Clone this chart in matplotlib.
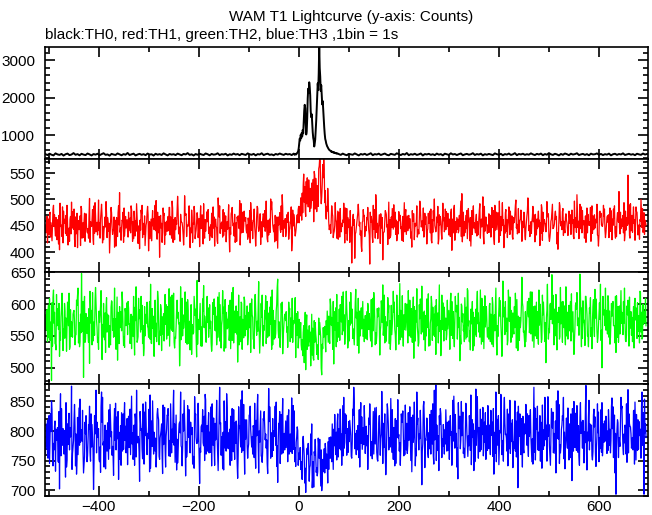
import numpy as np
import matplotlib
matplotlib.use("Agg")
import matplotlib.pyplot as plt
from matplotlib.ticker import MultipleLocator

plt.rcParams['font.family'] = ['Liberation Sans', 'DejaVu Sans']

TITLE = "WAM T1 Lightcurve (y-axis: Counts)"
SUBTITLE = "black:TH0, red:TH1, green:TH2, blue:TH3 ,1bin = 1s"

X_TICKS = [-400, -200, 0, 200, 400, 600]
X_RANGE = (-507, 698)

# TH0 (black): 4-s samples before burst, 1-s samples across burst, 4-s after
th0_pre_start = -506
th0_pre = [
    495, 472, 508, 481, 463, 517, 489, 476, 502, 458, 493, 511, 470, 486, 524, 479, 497, 465, 505, 484, 471, 513, 490, 461, 499,
    482, 507, 468, 494, 521, 477, 489, 456, 503, 486, 474, 515, 492, 466, 498, 480, 527, 473, 491, 509, 462, 487, 504, 478, 496,
    469, 512, 485, 493, 459, 506, 481, 497, 474, 518, 488, 463, 501, 483, 495, 471, 510, 490, 467, 503, 486, 524, 476, 492, 460,
    499, 479, 508, 487, 472, 514, 494, 465, 502, 482, 490, 519, 470, 496, 485, 506, 461, 493, 478, 511, 484, 499, 468, 505, 488,
    474, 516, 491, 480, 503, 463, 497, 486, 520, 471, 495, 508, 477, 489, 466, 501, 483, 513, 492, 475, 506, 488, 498, 471, 510,
]
th0_burst_start = -9
th0_burst = [
    492, 478, 505, 496, 488, 512, 530, 545, 580,
    650, 780, 910, 860, 1010, 920, 1060, 970, 1140, 1050,
    1380, 1650, 1810, 1720, 1290, 1020, 1110, 1450, 1980, 2240,
    2130, 2410, 2290, 2060, 1640, 1480, 1560, 1330, 1080, 930,
    860, 700, 780, 890, 1120, 1390, 1720, 2050, 2380, 2210,
    2650, 3400, 2790, 2560, 2180, 2330, 2060, 1820, 1910, 1660,
    1420, 1210, 1030, 900, 850, 780, 740, 700, 680, 650,
    630, 610, 600, 590, 575, 560, 570, 555, 548, 540,
    552, 530, 535, 522, 528, 515, 520, 508, 512, 505,
]
th0_post_start = 80
th0_post = [
    498, 476, 510, 485, 467, 503, 492, 479, 515, 488, 462, 500, 483, 506, 474, 494, 520, 469, 497, 486, 509, 473, 491, 512, 480,
    465, 504, 489, 477, 518, 493, 471, 501, 484, 526, 468, 496, 482, 507, 475, 490, 513, 461, 499, 487, 505, 478, 494, 470, 511,
    483, 497, 464, 508, 491, 476, 519, 486, 500, 472, 495, 514, 467, 489, 503, 481, 493, 522, 474, 498, 485, 509, 463, 496, 480,
    502, 488, 471, 516, 494, 479, 505, 466, 498, 484, 512, 475, 491, 523, 469, 500, 487, 507, 477, 495, 482, 517, 490, 472, 504,
    486, 511, 468, 499, 481, 524, 492, 474, 506, 489, 463, 501, 478, 513, 495, 470, 508, 485, 497, 520, 473, 490, 503, 476, 498,
    467, 509, 488, 494, 515, 479, 502, 471, 496, 483, 510, 464, 493, 506, 477, 499, 487, 518, 474, 491, 505, 482, 496, 469, 507,
    490, 478, 512, 485, 500,
]

# TH1..TH3: four interleaved 1-s sample sets, each every 4 s,
# starting at -506 s (a), -505 s (c), -504 s (b), -503 s (d)
TH_STARTS = {'a': -506, 'b': -504, 'c': -505, 'd': -503}
TH_STEP = 4
th1_a = [
    452, 418, 471, 440, 489, 431, 462, 405, 447, 478, 436, 459, 421, 495, 444, 467, 409, 452, 483, 428,
    461, 437, 502, 449, 415, 470, 433, 456, 491, 424, 448, 466, 399, 475, 442, 457, 430, 513, 446, 419,
    468, 439, 454, 481, 426, 460, 445, 407, 473, 451, 434, 487, 458, 422, 464, 441, 476, 391, 455, 469,
    433, 450, 485, 427, 462, 443, 506, 438, 457, 414, 471, 449, 431, 480, 453, 436, 465, 411, 447, 492,
    440, 458, 423, 474, 446, 463, 417, 488, 452, 432, 469, 444, 401, 477, 455, 428, 461, 498, 437, 450,
    466, 425, 479, 442, 459, 412, 484, 448, 435, 470, 454, 420, 463, 496, 439, 451, 408, 475, 443, 460,
    430, 467, 445, 403, 472, 438, 456, 486, 461, 548, 468, 519, 477, 531, 458, 540, 496, 579, 505, 578,
    472, 521, 447, 488, 436, 462, 478, 429, 455, 493, 441, 466, 419, 380, 451, 437, 474, 457, 402, 468,
    449, 485, 378, 460, 444, 509, 426, 471, 453, 438, 476, 415, 462, 447, 490, 434, 458, 470, 423, 455,
    481, 441, 464, 410, 473, 450, 436, 497, 456, 429, 468, 445, 478, 418, 460, 439, 487, 452, 425, 466,
    443, 474, 458, 404, 482, 437, 463, 449, 511, 431, 470, 454, 422, 479, 446, 461, 433, 492, 448, 416,
    467, 452, 438, 485, 427, 459, 475, 442, 463, 409, 481, 450, 434, 469, 456, 499, 440, 461, 421, 476,
    445, 503, 430, 458, 471, 436, 464, 413, 484, 451, 439, 467, 428, 477, 449, 462, 406, 488, 443, 459,
    473, 432, 455, 480, 426, 466, 447, 491, 437, 460, 419, 472, 453, 488, 444, 463, 431, 478, 450, 468,
    438, 457, 484, 424, 465, 449, 472, 435, 461, 494, 442, 546, 427, 470, 455, 486, 433, 462, 447, 475,
    452,
]
th1_b = [
    444, 463, 429, 455, 471, 438, 416, 449, 486, 457, 432, 441, 468, 477, 425, 452, 460, 413, 439, 474,
    448, 427, 458, 481, 436, 445, 499, 462, 418, 451, 473, 440, 456, 434, 410, 466, 488, 447, 459, 431,
    454, 476, 437, 421, 463, 492, 450, 442, 428, 469, 457, 403, 445, 479, 461, 432, 449, 470, 438, 415,
    459, 441, 467, 484, 424, 453, 435, 472, 448, 507, 430, 462, 446, 419, 475, 458, 439, 488, 451, 427,
    463, 436, 452, 470, 412, 447, 481, 455, 429, 466, 443, 490, 434, 457, 472, 421, 450, 441, 476, 460,
    437, 458, 494, 426, 449, 468, 440, 415, 462, 479, 445, 433, 501, 454, 420, 467, 452, 438, 485, 446,
    471, 425, 456, 480, 443, 462, 487, 503, 475, 524, 492, 537, 483, 505, 546, 477, 558, 513, 566, 494,
    487, 458, 436, 469, 451, 427, 476, 445, 461, 418, 483, 447, 432, 465, 389, 456, 474, 441, 459, 430,
    466, 442, 457, 419, 481, 438, 453, 473, 386, 460, 448, 495, 433, 464, 450, 422, 477, 445, 468, 439,
    452, 470, 427, 459, 446, 488, 435, 463, 441, 474, 416, 455, 482, 438, 451, 467, 426, 458, 493, 444,
    461, 433, 475, 450, 423, 466, 441, 497, 452, 437, 479, 458, 412, 470, 446, 431, 464, 455, 505, 440,
    448, 473, 429, 457, 489, 443, 419, 468, 451, 436, 462, 486, 444, 425, 471, 453, 437, 480, 459, 432,
    469, 441, 458, 487, 420, 463, 448, 436, 476, 455, 496, 430, 459, 445, 472, 416, 461, 450, 483, 437,
    456, 478, 434, 462, 447, 509, 426, 465, 452, 439, 484, 458, 421, 469, 446, 491, 433, 474, 457, 443,
    466, 428, 479, 451, 437, 462, 515, 445, 470, 433, 458, 490, 441, 464, 423, 476, 452, 500, 438, 461,
]
th1_c = [
    437, 458, 476, 422, 449, 466, 441, 493, 430, 455, 470, 414, 462, 446, 482, 435, 451, 469, 427, 458,
    473, 445, 419, 462, 488, 439, 453, 427, 470, 442, 496, 458, 431, 449, 467, 412, 475, 438, 461, 484,
    446, 429, 465, 452, 478, 440, 417, 461, 489, 434, 452, 471, 426, 457, 443, 498, 437, 462, 419, 474,
    451, 468, 433, 497, 445, 460, 479, 421, 456, 438, 473, 450, 409, 466, 487, 443, 428, 459, 471, 436,
    455, 481, 440, 428, 467, 449, 503, 436, 458, 475, 420, 462, 447, 485, 431, 456, 469, 414, 452, 478,
    443, 465, 418, 457, 482, 435, 451, 473, 429, 448, 497, 461, 438, 476, 452, 423, 467, 444, 509, 456,
    439, 476, 458, 422, 465, 447, 481, 469, 512, 495, 534, 486, 521, 498, 553, 516, 487, 571, 529, 557,
    463, 497, 452, 474, 440, 458, 425, 483, 449, 467, 436, 455, 479, 428, 462, 446, 491, 433, 457, 470,
    441, 459, 476, 430, 452, 488, 445, 417, 466, 439, 472, 456, 428, 483, 448, 461, 435, 470, 454, 494,
    434, 465, 451, 479, 424, 457, 443, 486, 460, 431, 449, 474, 437, 462, 501, 445, 416, 468, 453, 439,
    477, 448, 430, 463, 489, 452, 437, 471, 420, 458, 445, 483, 466, 434, 456, 472, 441, 427, 463, 487,
    455, 438, 470, 447, 415, 476, 459, 432, 494, 451, 440, 465, 478, 429, 457, 446, 483, 462, 436, 471,
    458, 485, 442, 467, 451, 433, 478, 456, 423, 462, 447, 473, 439, 491, 454, 468, 431, 455, 477, 444,
    462, 440, 471, 455, 497, 438, 459, 445, 479, 427, 464, 452, 485, 436, 471, 456, 412, 467, 449, 482,
    453, 471, 440, 463, 488, 430, 457, 476, 449, 422, 466, 454, 492, 438, 462, 477, 445, 459, 483, 434,
]
th1_d = [
    468, 433, 456, 481, 445, 424, 470, 452, 418, 463, 489, 446, 435, 458, 411, 474, 443, 487, 456, 421,
    439, 470, 453, 426, 494, 457, 441, 478, 449, 467, 428, 455, 485, 442, 461, 437, 452, 423, 476, 450,
    462, 441, 488, 458, 431, 470, 446, 480, 455, 413, 476, 439, 463, 450, 489, 425, 468, 446, 484, 457,
    440, 485, 455, 419, 466, 481, 448, 459, 434, 470, 452, 488, 437, 455, 426, 475, 464, 445, 416, 462,
    477, 448, 431, 486, 459, 422, 467, 445, 481, 440, 458, 433, 473, 450, 419, 467, 445, 492, 438, 459,
    452, 429, 474, 461, 436, 487, 446, 458, 473, 440, 426, 459, 481, 445, 470, 437, 455, 488, 430, 464,
    457, 441, 486, 450, 431, 471, 456, 494, 527, 479, 541, 510, 495, 538, 482, 526, 563, 492, 541, 517,
    478, 443, 465, 428, 494, 451, 470, 439, 457, 484, 423, 461, 448, 472, 436, 463, 450, 412, 481, 447,
    462, 433, 468, 489, 427, 455, 471, 446, 438, 479, 452, 426, 467, 444, 476, 434, 460, 448, 421, 473,
    469, 446, 438, 473, 455, 429, 462, 448, 484, 453, 440, 468, 423, 479, 445, 458, 471, 437, 460, 482,
    449, 463, 482, 437, 458, 444, 470, 430, 476, 455, 426, 462, 449, 488, 437, 458, 480, 463, 432, 451,
    436, 466, 452, 479, 442, 460, 497, 441, 462, 475, 428, 455, 443, 466, 489, 435, 452, 470, 447, 424,
    479, 451, 436, 458, 472, 445, 461, 490, 440, 454, 469, 421, 463, 446, 478, 437, 494, 458, 432, 466,
    445, 468, 452, 430, 461, 475, 442, 486, 458, 469, 437, 451, 474, 443, 458, 433, 476, 452, 489, 428,
    469, 444, 459, 482, 427, 475, 448, 463, 437, 478, 451, 432, 467, 486, 448, 455, 425, 471, 443, 457,
]
th2_a = [
    583, 541, 609, 480, 622, 537, 575, 518, 594, 561, 547, 603, 529, 572, 588, 551, 614, 533, 648, 485,
    545, 579, 507, 590, 563, 626, 540, 571, 553, 601, 524, 584, 566, 605, 548, 577, 512, 596, 558, 535,
    587, 552, 569, 530, 612, 574, 543, 591, 560, 519, 581, 565, 604, 538, 576, 549, 620, 557, 527, 585,
    568, 596, 534, 559, 617, 546, 578, 503, 589, 562, 540, 607, 573, 521, 555, 592, 537, 580, 564, 629,
    550, 571, 599, 526, 584, 558, 611, 542, 567, 595, 531, 576, 553, 618, 539, 586, 509, 570, 601, 547,
    582, 536, 563, 608, 544, 590, 557, 523, 579, 566, 613, 548, 595, 529, 572, 554, 639, 541, 587, 561,
    574, 532, 593, 551, 569, 516, 588, 547, 528, 566, 497, 559, 541, 584, 512, 553, 536, 571, 489, 548,
    525, 562, 538, 579, 506, 594, 567, 543, 612, 558, 584, 531, 603, 570, 549, 623, 537, 589, 561, 576,
    546, 601, 572, 533, 618, 555, 580, 520, 596, 563, 541, 610, 574, 552, 587, 528, 565, 632, 548, 583,
    559, 539, 606, 571, 515, 590, 553, 577, 628, 544, 582, 563, 535, 599, 568, 521, 586, 557, 614, 542,
    578, 561, 529, 604, 550, 589, 572, 511, 597, 566, 545, 621, 558, 583, 534, 592, 569, 548, 609, 530,
    587, 556, 601, 537, 574, 625, 549, 581, 518, 595, 562, 543, 611, 570, 553, 588, 527, 579, 642, 558,
    541, 593, 566, 619, 532, 577, 554, 600, 545, 584, 508, 572, 598, 646, 536, 615, 571, 549, 589, 563,
    627, 545, 580, 556, 521, 602, 568, 647, 594, 575, 612, 551, 586, 530, 564, 608, 547, 576, 500, 591,
    559, 613, 537, 581, 566, 524, 596, 553, 587, 570, 541, 606, 562, 579, 531, 594, 557, 620, 545, 574,
    566,
]
th2_b = [
    571, 598, 552, 534, 587, 615, 560, 543, 579, 601, 526, 566, 591, 548, 572, 606, 539, 584, 557, 612,
    563, 540, 589, 618, 551, 575, 529, 597, 568, 544, 610, 582, 536, 559, 625, 574, 550, 588, 604, 532,
    578, 593, 547, 565, 520, 584, 609, 556, 538, 596, 570, 548, 631, 562, 583, 541, 574, 599, 553, 587,
    545, 580, 611, 557, 531, 592, 569, 627, 550, 575, 603, 538, 586, 564, 597, 517, 571, 555, 608, 581,
    594, 548, 573, 602, 559, 536, 583, 566, 621, 545, 577, 598, 530, 562, 589, 553, 614, 541, 576, 605,
    560, 587, 524, 579, 596, 551, 635, 568, 543, 590, 557, 581, 611, 536, 574, 599, 547, 563, 522, 584,
    556, 603, 578, 540, 595, 562, 547, 571, 519, 555, 583, 534, 503, 562, 540, 521, 578, 548, 530, 565,
    552, 581, 596, 529, 573, 615, 548, 586, 561, 537, 593, 574, 618, 546, 569, 587, 523, 577, 604, 555,
    588, 560, 542, 609, 577, 551, 594, 566, 630, 539, 572, 598, 545, 583, 561, 614, 537, 590, 557, 571,
    600, 575, 548, 586, 563, 624, 540, 591, 556, 573, 608, 534, 577, 595, 549, 566, 583, 519, 602, 568,
    553, 590, 617, 546, 571, 598, 563, 537, 585, 610, 548, 574, 592, 527, 567, 603, 556, 580, 541, 613,
    570, 545, 584, 599, 558, 520, 593, 567, 636, 552, 578, 601, 540, 586, 563, 607, 548, 574, 596, 533,
    582, 609, 553, 571, 597, 546, 622, 565, 583, 541, 590, 561, 576, 614, 550, 528, 595, 569, 604, 556,
    573, 598, 542, 588, 563, 618, 551, 579, 605, 535, 584, 571, 549, 596, 623, 557, 581, 543, 612, 566,
    590, 548, 576, 604, 539, 585, 561, 621, 552, 578, 597, 534, 588, 567, 609, 546, 582, 556, 600, 571,
]
th2_c = [
    559, 587, 543, 602, 570, 528, 593, 555, 617, 546, 578, 599, 533, 564, 590, 552, 625, 541, 576, 596,
    585, 554, 620, 536, 572, 598, 547, 582, 513, 567, 594, 559, 542, 603, 578, 529, 587, 563, 619, 549,
    566, 604, 538, 581, 556, 627, 549, 573, 598, 531, 584, 562, 545, 593, 518, 570, 608, 551, 580, 542,
    599, 551, 577, 614, 540, 565, 587, 536, 609, 572, 553, 590, 528, 568, 612, 547, 576, 601, 534, 563,
    540, 594, 562, 537, 608, 581, 548, 599, 575, 526, 587, 563, 606, 543, 571, 597, 552, 580, 529, 611,
    572, 549, 601, 583, 530, 565, 592, 546, 614, 559, 538, 586, 568, 622, 545, 589, 560, 532, 603, 576,
    588, 556, 541, 609, 572, 585, 531, 562, 544, 508, 569, 537, 556, 520, 574, 545, 513, 559, 537, 551,
    574, 540, 608, 562, 588, 533, 571, 599, 552, 583, 620, 544, 567, 592, 536, 578, 609, 550, 585, 541,
    567, 593, 550, 579, 603, 538, 586, 557, 571, 614, 546, 588, 529, 567, 603, 555, 582, 544, 613, 560,
    579, 621, 557, 540, 596, 572, 534, 608, 565, 589, 550, 616, 570, 543, 584, 607, 539, 574, 560, 595,
    544, 576, 602, 563, 533, 588, 617, 550, 572, 541, 595, 566, 528, 604, 579, 549, 586, 622, 557, 574,
    596, 563, 541, 610, 583, 549, 572, 605, 539, 584, 557, 622, 575, 548, 596, 531, 581, 563, 602, 545,
    563, 580, 619, 542, 566, 603, 537, 588, 614, 557, 579, 545, 601, 569, 592, 552, 578, 626, 540, 597,
    550, 586, 604, 571, 540, 592, 578, 617, 546, 563, 599, 533, 610, 575, 549, 590, 566, 631, 553, 585,
    578, 604, 548, 591, 566, 613, 540, 585, 567, 625, 551, 593, 572, 541, 601, 579, 560, 618, 547, 588,
]
th2_d = [
    591, 547, 572, 610, 538, 566, 601, 580, 527, 589, 564, 617, 549, 584, 536, 598, 571, 555, 604, 540,
    554, 593, 570, 542, 605, 563, 589, 621, 548, 586, 556, 532, 595, 577, 549, 611, 538, 579, 561, 593,
    602, 568, 584, 549, 595, 540, 577, 612, 566, 550, 603, 574, 539, 581, 606, 557, 536, 592, 569, 615,
    557, 624, 563, 592, 548, 606, 571, 544, 583, 619, 537, 568, 599, 553, 582, 637, 560, 534, 589, 572,
    612, 568, 539, 584, 595, 552, 618, 531, 586, 607, 561, 543, 579, 626, 555, 588, 536, 603, 566, 550,
    597, 563, 584, 545, 615, 573, 558, 601, 534, 577, 604, 550, 562, 590, 547, 626, 572, 601, 548, 581,
    564, 589, 547, 574, 610, 551, 576, 536, 555, 587, 529, 566, 548, 515, 571, 532, 552, 499, 563, 540,
    589, 547, 567, 604, 559, 541, 592, 572, 619, 555, 576, 542, 588, 561, 603, 535, 570, 594, 549, 582,
    544, 585, 607, 558, 536, 593, 573, 605, 551, 580, 566, 538, 598, 620, 552, 577, 589, 563, 534, 601,
    576, 550, 593, 611, 542, 565, 599, 553, 586, 527, 578, 560, 612, 551, 597, 575, 630, 548, 583, 559,
    606, 567, 551, 588, 612, 545, 579, 600, 558, 577, 624, 541, 569, 587, 552, 620, 571, 537, 596, 564,
    548, 598, 575, 533, 591, 566, 610, 549, 580, 604, 536, 573, 590, 559, 617, 568, 543, 597, 556, 588,
    604, 555, 577, 596, 550, 588, 567, 540, 603, 571, 631, 555, 583, 596, 562, 587, 545, 603, 573, 536,
    587, 558, 616, 544, 598, 566, 585, 533, 571, 612, 550, 594, 563, 607, 578, 540, 602, 559, 583, 625,
    553, 589, 601, 566, 612, 548, 597, 570, 604, 543, 583, 611, 551, 596, 575, 602, 539, 587, 568, 609,
]
th3_a = [
    760, 818, 745, 851, 779, 732, 806, 702, 838, 791, 722, 812, 768, 876, 784, 741, 823, 776, 802, 729,
    795, 758, 842, 773, 701, 827, 789, 748, 866, 781, 736, 814, 770, 799, 725, 847, 787, 756, 831, 769,
    808, 743, 789, 859, 762, 821, 780, 715, 804, 774, 849, 796, 731, 817, 761, 788, 838, 752, 812, 777,
    739, 826, 784, 763, 869, 791, 746, 815, 772, 800, 724, 843, 768, 794, 757, 829, 782, 711, 810, 775,
    853, 766, 798, 741, 822, 785, 759, 874, 790, 734, 816, 771, 803, 750, 836, 779, 720, 809, 764, 845,
    786, 754, 827, 773, 805, 737, 862, 781, 756, 819, 795, 728, 841, 767, 800, 776, 713, 833, 761, 792,
    817, 748, 783, 856, 769, 740, 801, 752, 723, 774, 696, 761, 738, 812, 705, 757, 731, 786, 699, 744,
    768, 712, 779, 748, 803, 760, 829, 783, 742, 857, 796, 771, 818, 754, 874, 787, 809, 739, 824, 777,
    793, 735, 846, 782, 761, 812, 749, 798, 867, 772, 726, 835, 789, 764, 806, 745, 853, 780, 819, 758,
    801, 776, 841, 731, 795, 769, 822, 787, 709, 850, 784, 762, 828, 797, 744, 878, 773, 811, 755, 790,
    836, 767, 804, 742, 859, 783, 719, 825, 792, 771, 847, 757, 813, 786, 733, 871, 799, 765, 820, 780,
    752, 843, 789, 808, 727, 866, 776, 801, 760, 834, 795, 741, 852, 782, 770, 817, 704, 829, 788, 763,
    845, 779, 811, 748, 874, 794, 768, 826, 737, 802, 785, 858, 759, 821, 796, 729, 868, 777, 810, 753,
    799, 839, 772, 716, 850, 790, 764, 823, 806, 746, 877, 783, 812, 758, 837, 740, 797, 770, 848, 781,
    825, 767, 803, 856, 786, 693, 814, 774, 842, 795, 761, 870, 808, 784, 835, 751, 819, 792, 866, 693,
    789,
]
th3_b = [
    792, 771, 829, 755, 808, 784, 747, 863, 776, 801, 739, 819, 790, 762, 845, 727, 798, 781, 835, 757,
    772, 811, 749, 790, 826, 763, 804, 730, 857, 783, 795, 752, 820, 774, 838, 791, 718, 809, 766, 848,
    779, 825, 760, 797, 742, 869, 787, 814, 753, 832, 775, 806, 737, 851, 784, 762, 819, 795, 728, 840,
    803, 758, 846, 781, 812, 734, 793, 866, 770, 824, 756, 789, 815, 744, 858, 779, 801, 764, 836, 750,
    788, 831, 764, 806, 742, 852, 777, 814, 736, 797, 863, 770, 825, 786, 752, 809, 841, 773, 796, 727,
    819, 778, 803, 761, 847, 792, 729, 834, 766, 810, 785, 872, 754, 821, 797, 740, 813, 779, 855, 768,
    799, 836, 765, 811, 748, 790, 757, 735, 782, 712, 766, 748, 795, 721, 759, 738, 776, 707, 752, 729,
    761, 735, 790, 772, 828, 751, 804, 768, 843, 781, 759, 816, 793, 837, 770, 801, 755, 848, 786, 810,
    775, 822, 758, 796, 839, 764, 812, 787, 745, 829, 802, 768, 855, 783, 741, 818, 794, 771, 834, 760,
    813, 784, 750, 827, 792, 866, 768, 805, 779, 738, 822, 797, 761, 846, 785, 810, 733, 829, 774, 802,
    766, 817, 793, 852, 771, 739, 808, 786, 832, 755, 799, 775, 861, 789, 748, 823, 806, 768, 840, 781,
    809, 770, 835, 757, 798, 820, 743, 862, 784, 813, 766, 829, 792, 738, 851, 777, 807, 760, 825, 795,
    776, 826, 790, 744, 839, 803, 767, 815, 782, 857, 749, 811, 788, 832, 762, 798, 845, 773, 819, 736,
    787, 751, 829, 806, 772, 843, 758, 796, 818, 780, 734, 852, 799, 765, 824, 791, 748, 836, 776, 808,
    762, 813, 784, 841, 729, 802, 789, 857, 771, 810, 747, 829, 795, 768, 849, 783, 816, 754, 831, 797,
]
th3_c = [
    812, 754, 790, 836, 768, 803, 749, 822, 785, 761, 848, 777, 806, 735, 819, 795, 760, 854, 783, 744,
    826, 785, 764, 811, 748, 869, 797, 773, 815, 739, 801, 780, 845, 759, 812, 768, 833, 752, 797, 821,
    763, 799, 837, 778, 810, 756, 791, 833, 769, 744, 818, 787, 861, 774, 798, 739, 825, 788, 760, 803,
    791, 838, 757, 803, 776, 827, 764, 797, 741, 852, 782, 819, 763, 806, 737, 789, 847, 771, 799, 825,
    761, 807, 782, 846, 770, 798, 733, 812, 788, 851, 766, 797, 742, 838, 780, 817, 758, 792, 868, 774,
    803, 771, 842, 790, 755, 818, 784, 806, 747, 833, 771, 798, 823, 757, 791, 849, 780, 745, 814, 796,
    772, 820, 795, 762, 834, 781, 742, 772, 718, 758, 733, 779, 742, 704, 765, 730, 788, 743, 716, 770,
    737, 782, 754, 812, 775, 798, 756, 837, 789, 771, 827, 764, 805, 782, 848, 760, 797, 821, 769, 843,
    808, 770, 818, 753, 797, 840, 778, 759, 821, 795, 750, 812, 773, 836, 766, 801, 788, 742, 815, 783,
    768, 831, 797, 776, 849, 758, 790, 835, 766, 818, 795, 755, 807, 778, 869, 750, 792, 838, 787, 761,
    798, 784, 826, 761, 813, 796, 848, 770, 808, 755, 830, 792, 767, 819, 801, 776, 754, 837, 794, 815,
    785, 829, 760, 815, 781, 748, 826, 797, 773, 857, 788, 804, 762, 819, 796, 756, 842, 786, 739, 812,
    803, 757, 836, 787, 764, 821, 798, 749, 844, 775, 810, 791, 742, 805, 777, 851, 786, 763, 826, 798,
    822, 778, 755, 838, 794, 767, 809, 848, 771, 799, 766, 824, 783, 751, 807, 772, 832, 796, 758, 817,
    791, 836, 763, 804, 827, 772, 755, 819, 798, 780, 846, 763, 807, 789, 744, 828, 769, 803, 776, 854,
]
th3_d = [
    769, 826, 799, 741, 817, 787, 833, 758, 804, 779, 751, 830, 795, 772, 808, 750, 839, 790, 766, 815,
    748, 803, 829, 767, 795, 815, 752, 841, 776, 810, 766, 836, 790, 759, 784, 824, 798, 742, 829, 784,
    821, 772, 805, 752, 829, 783, 764, 801, 846, 792, 760, 837, 775, 809, 766, 828, 757, 801, 844, 772,
    827, 770, 804, 835, 747, 786, 812, 775, 829, 790, 766, 836, 801, 745, 821, 779, 759, 807, 780, 862,
    809, 763, 841, 776, 813, 789, 826, 759, 798, 771, 839, 782, 808, 765, 814, 745, 805, 853, 767, 819,
    776, 827, 789, 809, 765, 836, 800, 758, 821, 785, 745, 816, 797, 767, 842, 775, 806, 828, 763, 793,
    826, 761, 788, 843, 772, 807, 763, 748, 791, 737, 771, 715, 760, 748, 786, 724, 754, 768, 731, 779,
    750, 789, 766, 735, 781, 813, 770, 795, 758, 829, 804, 782, 757, 827, 796, 768, 836, 779, 806, 762,
    792, 811, 767, 833, 778, 752, 826, 795, 813, 761, 846, 784, 807, 752, 821, 789, 766, 829, 795, 844,
    762, 800, 823, 781, 741, 812, 795, 769, 842, 787, 810, 770, 835, 758, 800, 767, 826, 793, 811, 778,
    815, 752, 799, 783, 828, 771, 804, 850, 762, 797, 780, 826, 743, 812, 789, 858, 774, 803, 758, 831,
    767, 810, 793, 838, 762, 801, 775, 823, 749, 794, 837, 770, 813, 781, 766, 832, 791, 821, 769, 804,
    829, 791, 768, 809, 751, 842, 780, 806, 769, 828, 794, 775, 838, 763, 817, 788, 745, 803, 857, 772,
    771, 812, 789, 766, 830, 796, 742, 815, 785, 841, 798, 768, 810, 827, 761, 846, 789, 764, 812, 783,
    800, 776, 842, 755, 796, 819, 781, 838, 760, 805, 784, 812, 771, 834, 802, 767, 795, 841, 780, 812,
]

# per-panel y ranges and tick spacing (major, minor)
Y_RANGES = [(360, 3350), (364, 576), (475, 651), (690, 880)]
Y_MAJOR = [1000, 50, 50, 50]
Y_MINOR = [200, 10, 10, 10]
COLORS = ['black', '#ff0000', '#00ff00', '#0000ff']

t0 = np.concatenate([
    th0_pre_start + 4 * np.arange(len(th0_pre)),
    th0_burst_start + np.arange(len(th0_burst)),
    th0_post_start + 4 * np.arange(len(th0_post)),
])
y0 = np.array(th0_pre + th0_burst + th0_post, dtype=float)
series = [(t0, y0)]
for sets in (
    {'a': th1_a, 'b': th1_b, 'c': th1_c, 'd': th1_d},
    {'a': th2_a, 'b': th2_b, 'c': th2_c, 'd': th2_d},
    {'a': th3_a, 'b': th3_b, 'c': th3_c, 'd': th3_d},
):
    ts, ys = [], []
    for key, vals in sets.items():
        ts.append(TH_STARTS[key] + TH_STEP * np.arange(len(vals)))
        ys.append(np.asarray(vals, dtype=float))
    t = np.concatenate(ts)
    y = np.concatenate(ys)
    order = np.argsort(t, kind='stable')
    series.append((t[order], y[order]))

W, H = 652, 515
fig = plt.figure(figsize=(W / 100, H / 100), dpi=100)
left_px, right_px, top_px, bot_px = 45, 648, 47, 496
ph = (bot_px - top_px) / 4

for k in range(4):
    ytop = top_px + ph * k
    ax = fig.add_axes([left_px / W, 1 - (ytop + ph) / H, (right_px - left_px) / W, ph / H])
    t, y = series[k]
    ax.plot(t, y, color=COLORS[k], lw=1.4 if k == 0 else 0.9)
    ax.set_xlim(*X_RANGE)
    ax.set_ylim(*Y_RANGES[k])
    ax.set_xticks(X_TICKS)
    ax.xaxis.set_minor_locator(MultipleLocator(100))
    ax.yaxis.set_major_locator(MultipleLocator(Y_MAJOR[k]))
    ax.yaxis.set_minor_locator(MultipleLocator(Y_MINOR[k]))
    ax.tick_params(which='both', direction='in', top=True, right=True, labelsize=11, width=1.2)
    ax.tick_params(which='major', length=7)
    ax.tick_params(which='minor', length=3.5)
    ax.tick_params(axis='y', which='major', pad=7)
    ax.tick_params(axis='x', which='major', pad=3)
    for sp in ax.spines.values():
        sp.set_linewidth(1.2)
    if k < 3:
        ax.tick_params(labelbottom=False)
    yt = [v for v in ax.get_yticks() if Y_RANGES[k][0] <= v <= Y_RANGES[k][1] + 1]
    ax.set_yticks(yt)

fig.text(351 / W, 1 - 17 / H, TITLE, ha='center', va='center', fontsize=11)
fig.text(45 / W, 1 - 35 / H, SUBTITLE, ha='left', va='center', fontsize=11)

fig.savefig('out.png', dpi=100)
